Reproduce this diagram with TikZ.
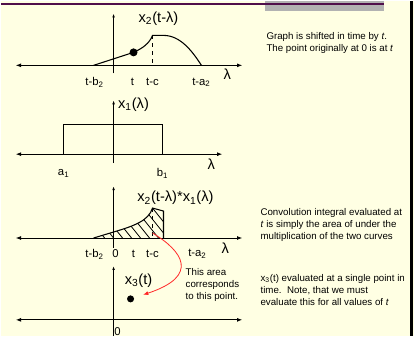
\documentclass[tikz,border=0pt]{standalone}
\usepackage{fontspec}
\setmainfont{Liberation Sans}
\usetikzlibrary{arrows.meta}

\definecolor{slidebg}{RGB}{255,255,227}
\definecolor{rulepurple}{RGB}{80,15,75}
\definecolor{tabgray}{RGB}{178,178,178}
\definecolor{arrowred}{RGB}{255,40,40}

\begin{document}
\begin{tikzpicture}[
    x=0.75pt, y=-0.75pt,
    axis/.style={line width=0.7pt, {Latex[length=4pt,width=3pt]}-{Latex[length=4pt,width=3pt]}},
    vaxis/.style={line width=0.7pt, -{Latex[length=3pt,width=2pt]}},
    curve/.style={line width=0.8pt},
    tick/.style={font=\fontsize{8.5}{10}\selectfont, inner sep=0pt},
    fname/.style={font=\fontsize{11}{13}\selectfont, inner sep=0pt},
    note/.style={font=\fontsize{7.3}{9}\selectfont, align=left, anchor=north west, inner sep=0pt},
    dot/.style={circle, fill=black, inner sep=0pt}
]

% slide background and frame
\fill[slidebg] (0,0) rectangle (414,335);
\fill[tabgray] (265,0) rectangle (384,10);
\draw[rulepurple, line width=1.2pt] (0,2.5) -- (384,2.5);
\draw[black, line width=2.2pt] (411.5,0) -- (411.5,335);

% graph 1: shifted x2
\draw[axis] (15,64) -- (242,64);
\draw[vaxis] (113,72) -- (113,12);
\draw[curve] (93,64) -- (133,51) .. controls (142,47) and (149,42) .. (152,34)
    -- (163,34) .. controls (180,34) and (192,50) .. (201,64);
\draw[curve, dashed] (152,34) -- (152,64);
\node[dot, minimum size=6pt] (tdot) at (133,51) {};
\node[fname] (xtwo) at (158,17) {x\textsubscript{2}(t-λ)};
\node[fname] (lamone) at (227,73) {λ};
\node[tick] (tbtwo) at (94,81) {t-b\textsubscript{2}};
\node[tick] (tone) at (132,81) {t};
\node[tick] (tcone) at (152,81) {t-c};
\node[tick] (tatwo) at (201,81) {t-a\textsubscript{2}};

% graph 2: x1
\draw[axis] (15,153) -- (222,153);
\draw[vaxis] (113,162) -- (113,99);
\draw[curve] (63,153) -- (63,123) -- (162,123) -- (162,153);
\node[fname] (xone) at (133,103) {x\textsubscript{1}(λ)};
\node[fname] (lamtwo) at (211,163) {λ};
\node[tick] (aone) at (63,172) {a\textsubscript{1}};
\node[tick] (bone) at (162,172) {b\textsubscript{1}};

% graph 3: product, hatched area
\draw[axis] (15,237) -- (242,237);
\draw[vaxis] (113,247) -- (113,185);
\begin{scope}
    \clip (93,237) -- (113,231) .. controls (133,225) and (148,220) .. (152,207)
        -- (163,210) -- (163,237) -- cycle;
    \foreach \hx in {95,104,...,200}
        \draw[line width=0.6pt] (\hx-28,202) -- (\hx,237);
\end{scope}
\draw[curve] (93,237) -- (113,231) .. controls (133,225) and (148,220) .. (152,207)
    -- (163,210) -- (163,237);
\draw[curve, dashed] (152,207) -- (152,237);
\coordinate (areastart) at (152,232);
\node[fname] (prod) at (175,197) {x\textsubscript{2}(t-λ)*x\textsubscript{1}(λ)};
\node[fname] (lamthree) at (225,247) {λ};
\node[tick] (tbthree) at (94,253) {t-b\textsubscript{2}};
\node[tick] (zthree) at (115,253) {0};
\node[tick] (tthree) at (133,253) {t};
\node[tick] (tcthree) at (152,253) {t-c};
\node[tick] (tathree) at (197,253) {t-a\textsubscript{2}};

% graph 4: x3 at a single point
\draw[axis] (15,319) -- (242,319);
\draw[vaxis] (113,335) -- (113,265);
\node[dot, minimum size=5.3pt] (xthreedot) at (130,298) {};
\node[fname] (xthree) at (138,280) {x\textsubscript{3}(t)};
\node[tick, anchor=north] (zfour) at (117,327) {0};

\node[note] (areatext) at (185,267) {This area\\corresponds\\to this point.};
\draw[arrowred, line width=0.6pt, -{Latex[length=4pt,width=3pt]}, shorten >=7pt]
    (areastart) .. controls (182,250) and (200,275) .. (xthreedot);

% notes on the right
\node[note] (shifttext) at (266,31) {Graph is shifted in time by \textit{t}.\\The point originally at 0 is at \textit{t}};
\node[note] (convtext) at (260,207) {Convolution integral evaluated at\\\textit{t} is simply the area of under the\\multiplication of the two curves};
\node[note] (evaltext) at (260,273) {x\textsubscript{3}(t) evaluated at a single point in\\time.\ \ Note, that we must\\evaluate this for all values of \textit{t}};

\end{tikzpicture}
\end{document}
